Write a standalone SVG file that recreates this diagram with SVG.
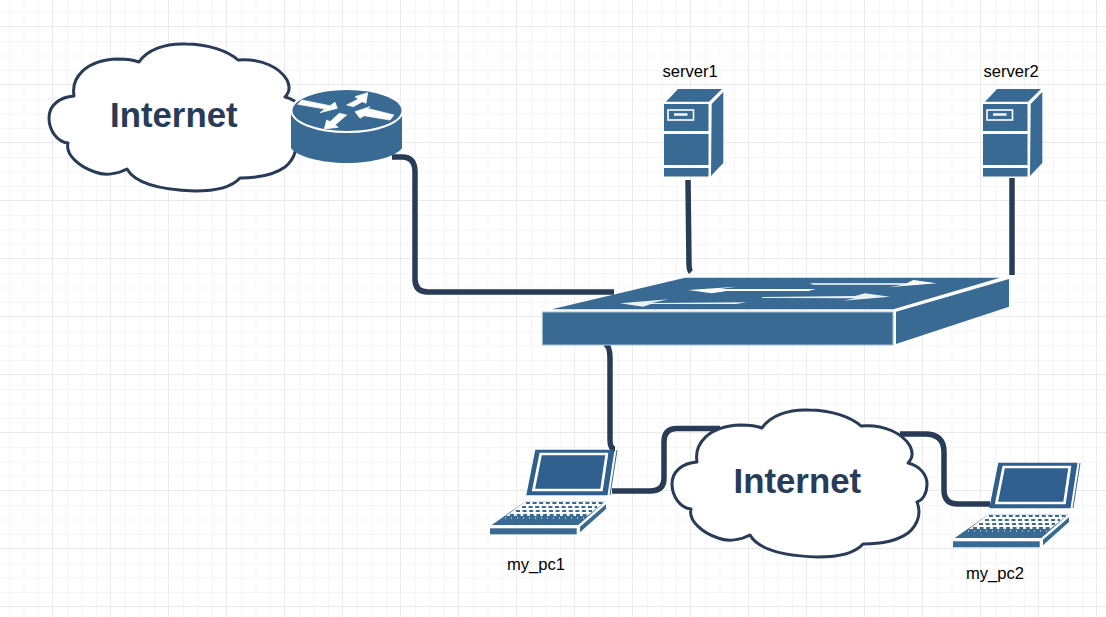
<svg xmlns="http://www.w3.org/2000/svg" xmlns:xlink="http://www.w3.org/1999/xlink" width="1106" height="617" viewBox="0 0 1106 617">
<style>
.blue{fill:#386a93}
.w{fill:#fff}
.ar{fill:#fff;stroke:#fff;stroke-width:.7;stroke-linejoin:round}
.cloud{fill:#fff;stroke:#283c58;stroke-width:3;stroke-linejoin:round}
.conn{fill:none;stroke:#283c58;stroke-width:5.5}
.big{font-family:"Liberation Sans",Arial,sans-serif;font-weight:700;font-size:34.8px;fill:#283c58}
.lbl{font-family:"Liberation Sans",Arial,sans-serif;font-size:16.6px;fill:#000}
.key{fill:none;stroke:#386a93;stroke-width:1.8;stroke-dasharray:4 2.6}
</style>
<defs>
<pattern id="grid" width="58" height="58" patternUnits="userSpaceOnUse" x="-5" y="-31">
<path d="M14.5 0V58M29 0V58M43.5 0V58M0 14.5H58M0 29H58M0 43.5H58" fill="none" stroke="#f5f5f5" stroke-width="1"/>
<path d="M58 0V58M0 58H58" fill="none" stroke="#e4e4e4" stroke-width="1.4"/>
</pattern>
<path id="cloudShape" class="cloud" d="M74 96C71 78 85 60 118 59C126 59 134 60 139 62C147 50 165 43 186 44C208 44 228 51 238 60C262 58 280 68 287 80C290 86 290 92 285 97C298 100 304 110 304 118C304 127 300 134 294 136C298 146 296 158 285 167C274 175 258 178 240 178C232 187 215 191 195 191C165 190 136 185 127 169C118 174 105 176 95 172C80 167 65 155 68 143C57 142 49 130 49 118C49 105 60 97 74 96Z"/>
<g id="serverShape">
<polygon class="blue" points="678,89 722,89 709,101.7 666,101.7"/>
<rect class="blue" x="664" y="104" width="44.5" height="27"/>
<rect class="blue" x="664" y="134" width="44.5" height="31"/>
<rect class="blue" x="664" y="168" width="44.5" height="8.5"/>
<polygon class="blue" points="711.7,104 723.3,92 723.3,163 711,176"/>
<rect x="668" y="110" width="25.5" height="10" fill="none" stroke="#fff" stroke-width="1.6"/>
<rect class="w" x="674" y="113.3" width="13.5" height="2.4"/>
</g>
<g id="laptopShape">
<polygon fill="#2f5f8f" points="535.3,449.7 614.5,449.7 607.5,495.3 526.3,495.3"/>
<polygon points="540.7,454 606.8,454 601.5,490 533.5,490" fill="#2f5f8f" stroke="#fff" stroke-width="2.7"/>
<path d="M617 450L610 495" stroke="#386a93" stroke-width="1" fill="none"/>
<polygon class="blue" points="525,501.7 605,501.7 578.3,525 491.7,525"/>
<polygon class="w" points="525,501.7 605,501.7 587,516 506,516"/>
<path class="key" d="M526 503H603M522 507H597M516 511H592M510 515H587"/>
<path fill="none" stroke="#fff" stroke-width="1.2" stroke-dasharray="1 5" d="M505 518H586"/>
<rect class="blue" x="490" y="528.3" width="86.7" height="6"/>
<polygon class="blue" points="580,526.7 606,504.3 606,509 580,532.3"/>
</g>
</defs>
<rect width="1106" height="617" fill="#fff"/>
<rect id="background-grid" width="1106" height="617" fill="url(#grid)"/>

<g id="connectors">
<path class="conn" d="M392 157H402Q415 157 415 172V279Q415 292 428 292H614"/>
<path class="conn" d="M688 180L689 264Q689 270 691 272"/>
<path class="conn" d="M1012 178V275"/>
<path class="conn" d="M605 344Q610 346 610 358V440Q610 449 615 449"/>
<path class="conn" d="M612 491H650Q664 491 664 478V442Q664 428.500 677 428.500H720"/>
<path class="conn" d="M900 434H925Q944 434 944 452V490Q944 504 958 504H990"/>
</g>

<g id="cloud1"><use href="#cloudShape"/><text class="big" x="110" y="127">Internet</text></g>

<g id="router">
<path class="blue" d="M291 113V148C296 156 320 163 347 163C374 163 397 156 402 148V113Z"/>
<ellipse class="blue" cx="347" cy="110.5" rx="55.5" ry="21.5" stroke="#fff" stroke-width="2"/>
<polygon class="ar" points="301.7,100 330,105.7 335,102.3 337.3,108.3 320,112.7 325,109 297.7,104.3"/>
<polygon class="ar" points="367.7,92.7 355,96.7 358.3,99 346.7,105 353.3,106.7 362.3,101.7 366,103.3"/>
<polygon class="ar" points="324.3,129 326.7,120 330,121.7 339.3,113.3 346.7,115 335,125 338.3,127.3"/>
<polygon class="ar" points="355,111.7 360,118.3 364,115.7 390,120 394,115 367,108.3 370,106.7"/>
</g>

<g id="server1"><use href="#serverShape"/><text class="lbl" x="662.5" y="77">server1</text></g>
<g id="server2"><use href="#serverShape" x="319"/><text class="lbl" x="983.5" y="77">server2</text></g>

<g id="switch">
<polygon class="blue" points="551.7,309.3 685,277.7 1000,277.7 893.3,309.3"/>
<rect class="blue" x="542.3" y="312" width="350.7" height="33" stroke="#a9c0d3" stroke-width="1"/>
<polygon class="blue" points="896,311.7 1009,279 1009,306.7 896,344"/>
<polygon class="w" points="620,303.3 668.3,299.3 652,303 746.7,302.3 736,304 651,304 643,306.7" opacity=".9"/>
<polygon class="w" points="688.3,290 736.7,286.7 720,289 816,289 808.3,291 726.7,291 711.7,293.3"/>
<polygon class="w" points="809.3,283.3 906.7,283.3 913.3,280 936.7,283.3 888.3,287.3 903.3,284.7 813.3,284.7"/>
<polygon class="w" points="761.7,297 855,296 865,293.3 890,296.7 843.3,300.7 855,298.3 763,298" opacity=".9"/>
</g>

<g id="my_pc1"><use href="#laptopShape"/><text class="lbl" x="507" y="570">my_pc1</text></g>
<g id="cloud2"><use href="#cloudShape" x="623" y="366"/><text class="big" x="733.5" y="493">Internet</text></g>
<g id="my_pc2"><use href="#laptopShape" x="463" y="13"/><text class="lbl" x="966" y="578.500">my_pc2</text></g>
</svg>
